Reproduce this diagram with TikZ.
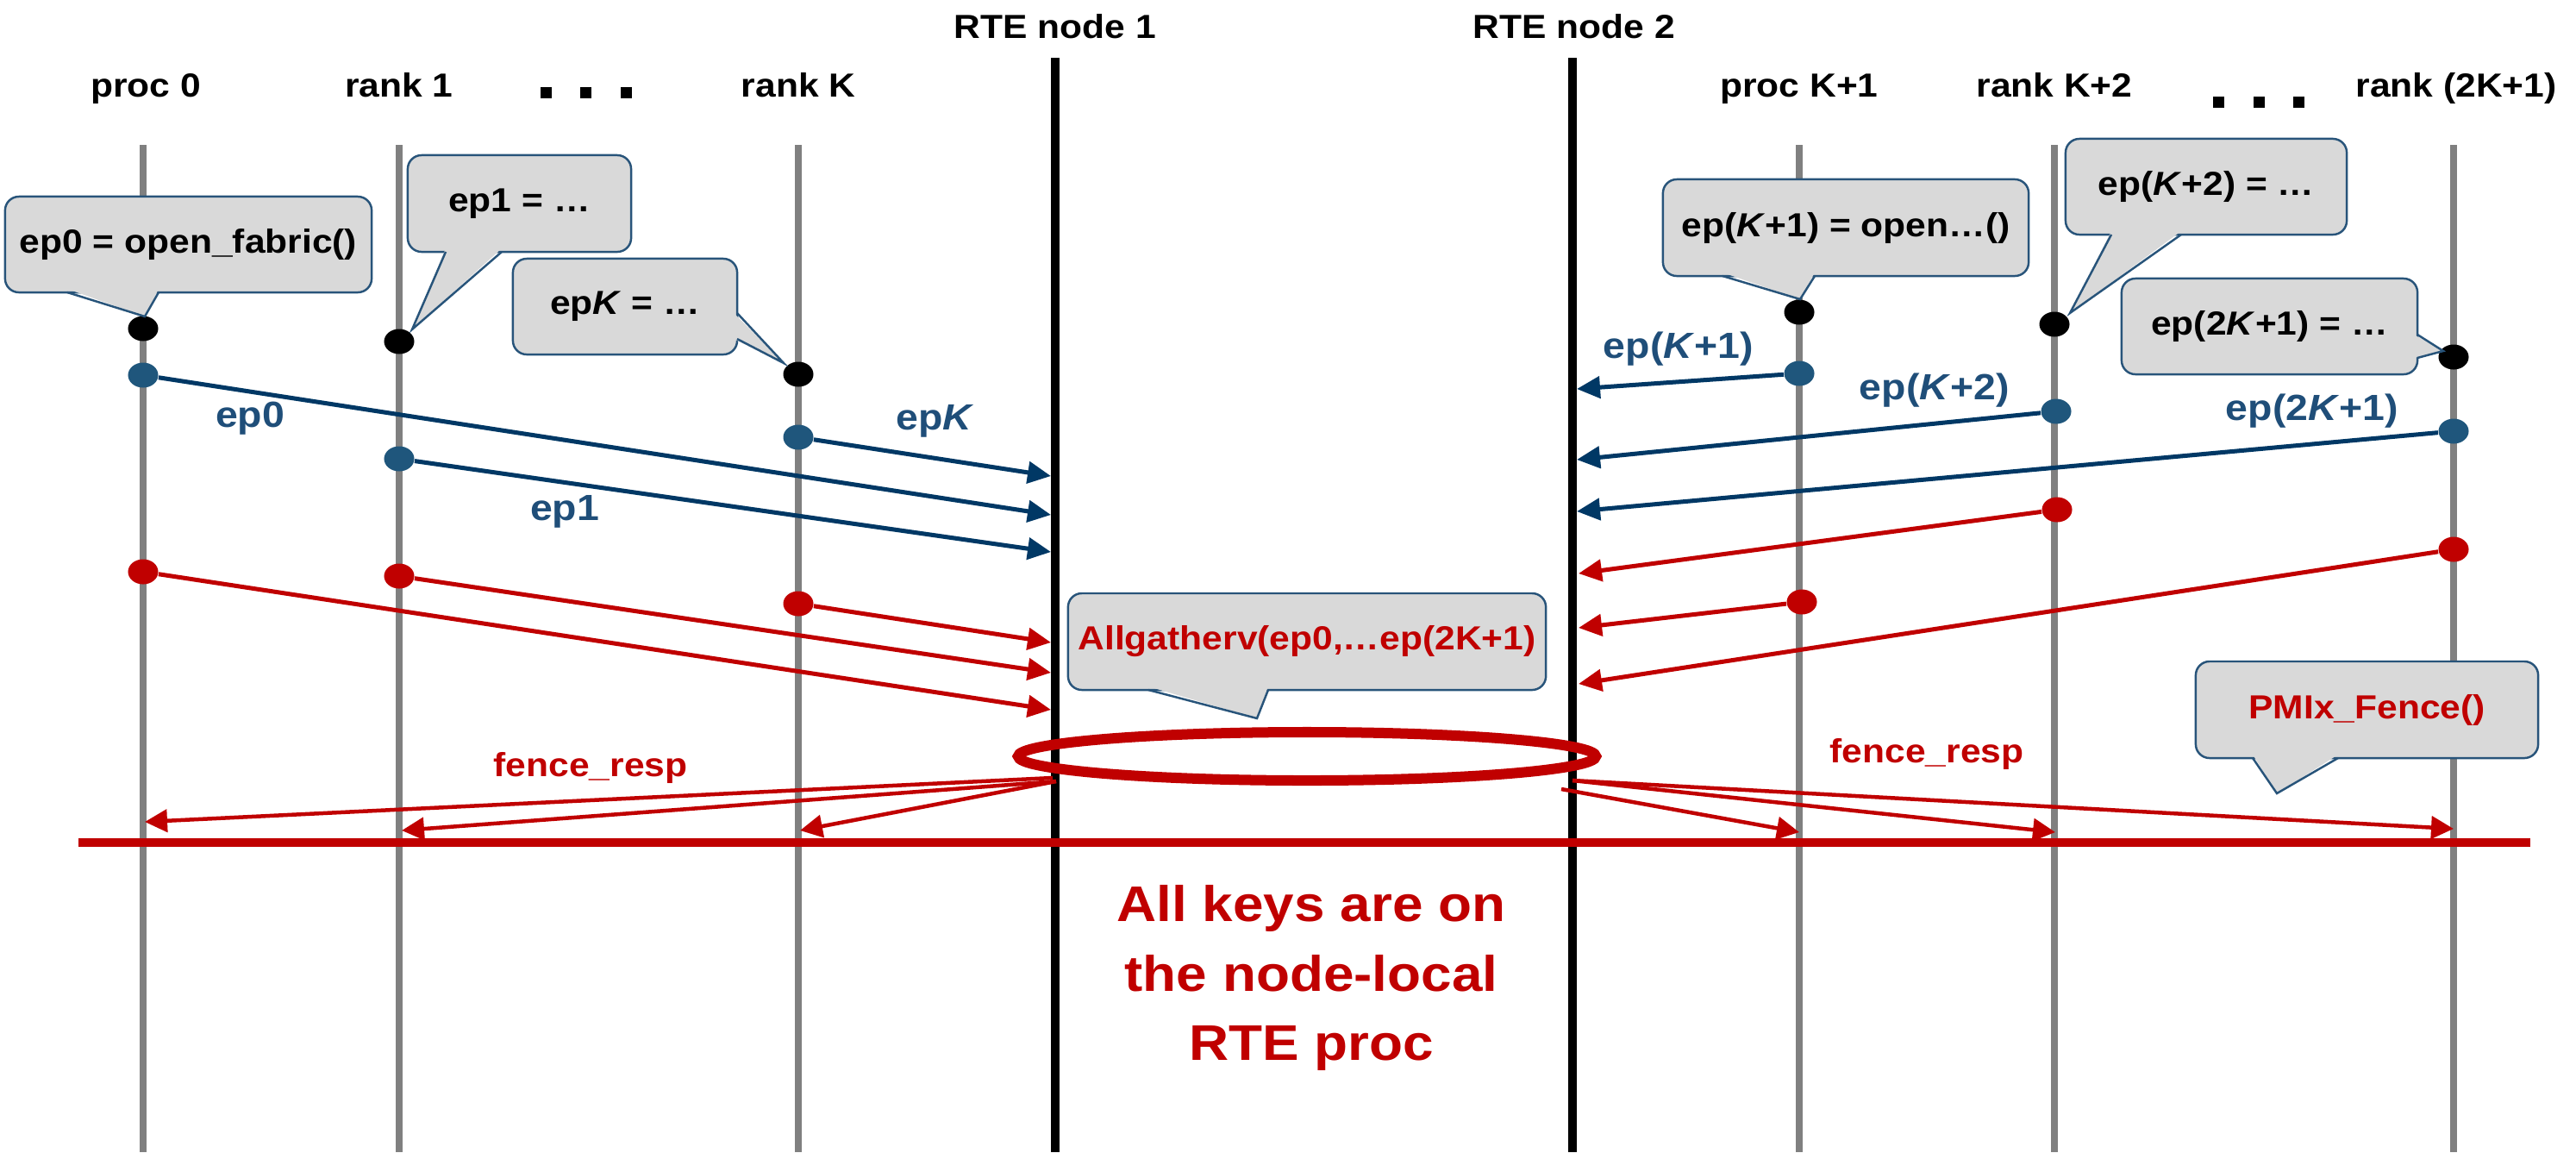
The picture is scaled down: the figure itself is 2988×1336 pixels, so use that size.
\documentclass[tikz,border=0pt]{standalone}
\usepackage{fontspec}
\setmainfont{Liberation Sans}[FakeStretch=1.1]
\usetikzlibrary{arrows.meta,shapes.geometric}
\definecolor{lane}{RGB}{128,128,128}
\definecolor{epdot}{RGB}{31,86,124}
\definecolor{eparrow}{RGB}{0,56,101}
\definecolor{eptext}{RGB}{31,78,121}
\definecolor{fencered}{RGB}{192,0,0}
\definecolor{callfill}{RGB}{217,217,217}
\definecolor{callline}{RGB}{40,84,122}
\newcommand\fsN{\fontsize{11}{13}\selectfont}
\newcommand\fsL{\fontsize{12}{14}\selectfont}
\newcommand\fsB{\fontsize{16.5}{22.8}\selectfont}
\begin{document}
\begin{tikzpicture}[x=0.01cm,y=-0.01cm,
  title/.style={font=\bfseries\fsN, anchor=base, inner sep=0},
  laneline/.style={draw=lane, line width=0.075cm},
  rteline/.style={draw=black, line width=0.1cm},
  sq/.style={fill=black, minimum size=0.13cm, inner sep=0, draw=none},
  callout/.style={fill=callfill, draw=callline, line width=0.7pt,
    rounded corners=0.16cm, inner sep=0, font=\bfseries\fsN},
  ptrfill/.style={fill=callfill},
  ptrline/.style={draw=callline, line width=0.7pt, line join=miter},
  dotk/.style={ellipse, fill=black, minimum width=0.35cm, minimum height=0.29cm, inner sep=0},
  dotb/.style={dotk, fill=epdot},
  dotr/.style={dotk, fill=fencered},
  eparr/.style={draw=eparrow, line width=0.05cm, -{Triangle[length=0.27cm,width=0.25cm]}},
  redarr/.style={draw=fencered, line width=0.05cm, -{Triangle[length=0.27cm,width=0.25cm]}},
  fencearr/.style={draw=fencered, line width=0.045cm, -{Triangle[length=0.26cm,width=0.26cm]}},
  eplbl/.style={text=eptext, font=\bfseries\fsL, inner sep=0},
  redlbl/.style={text=fencered, font=\bfseries\fsN, inner sep=0}
]
\useasboundingbox (0,0) rectangle (2988,1336);

% column titles
\node[title] (tp0) at (169,112) {proc 0};
\node[title] (tr1) at (463,112) {rank 1};
\node[title] (trk) at (926,112) {rank K};
\node[title] (tpk1) at (2087,112) {proc K+1};
\node[title] (trk2) at (2383,112) {rank K+2};
\node[title] (tr2k1) at (2849,112) {rank (2K+1)};
\node[title] (rte1) at (1224,44) {RTE node 1};
\node[title] (rte2) at (1826,44) {RTE node 2};
\node[sq] (dl1) at (633,107) {};
\node[sq] (dl2) at (679,107) {};
\node[sq] (dl3) at (726,107) {};
\node[sq] (dr1) at (2573,118) {};
\node[sq] (dr2) at (2620,118) {};
\node[sq] (dr3) at (2666,118) {};

% life lines
\foreach \x/\n in {166/a,463/b,926/c,2087/d,2383/e,2846/f}{
  \coordinate (top\n) at (\x,168);
  \coordinate (bot\n) at (\x,1336);
  \draw[laneline] (top\n) -- (bot\n);
}
\coordinate (rte1top) at (1224,67);
\coordinate (rte1bot) at (1224,1336);
\coordinate (rte2top) at (1824,67);
\coordinate (rte2bot) at (1824,1336);
\draw[rteline] (rte1top) -- (rte1bot);
\draw[rteline] (rte2top) -- (rte2bot);

% fence line
\coordinate (fl) at (91,977);
\coordinate (fr) at (2935,977);
\draw[draw=fencered, line width=0.1cm] (fl) -- (fr);

% end point dots
\node[dotk] (k0) at (166,381) {};
\node[dotk] (k1) at (463,396) {};
\node[dotk] (kk) at (926,434) {};
\node[dotk] (kk1) at (2087,362) {};
\node[dotk] (kk2) at (2383,376) {};
\node[dotk] (k2k) at (2846,414) {};

\node[dotb] (b0) at (166,435) {};
\node[dotb] (b1) at (463,532) {};
\node[dotb] (bk) at (926,507) {};
\node[dotb] (bk1) at (2087,433) {};
\node[dotb] (bk2) at (2385,477) {};
\node[dotb] (b2k) at (2846,500) {};

\node[dotr] (r0) at (166,663) {};
\node[dotr] (r1) at (463,668) {};
\node[dotr] (rk) at (926,700) {};
\node[dotr] (rk1) at (2090,698) {};
\node[dotr] (rk2) at (2386,591) {};
\node[dotr] (r2k) at (2846,637) {};

% end point sends to the node-local RTE
\coordinate (e0) at (1219,597);
\coordinate (e1) at (1219,640);
\coordinate (ek) at (1219,552);
\coordinate (ek1) at (1829,451);
\coordinate (ek2) at (1829,533);
\coordinate (e2k) at (1829,593);
\draw[eparr] (b0) -- (e0);
\draw[eparr] (b1) -- (e1);
\draw[eparr] (bk) -- (ek);
\draw[eparr] (bk1) -- (ek1);
\draw[eparr] (bk2) -- (ek2);
\draw[eparr] (b2k) -- (e2k);

\node[eplbl] (l0) at (290,485) {ep0};
\node[eplbl] (l1) at (655,593) {ep1};
\node[eplbl] (lk) at (1085,488) {ep\textit{K}};
\node[eplbl] (lk1) at (1947,405) {ep(\textit{K}+1)};
\node[eplbl] (lk2) at (2244,453) {ep(\textit{K}+2)};
\node[eplbl] (l2k) at (2682,477) {ep(2\textit{K}+1)};

% fence requests
\coordinate (f0) at (1219,823);
\coordinate (f1) at (1219,780);
\coordinate (fk) at (1219,745);
\coordinate (fk1) at (1831,728);
\coordinate (fk2) at (1831,665);
\coordinate (f2k) at (1831,793);
\draw[redarr] (r0) -- (f0);
\draw[redarr] (r1) -- (f1);
\draw[redarr] (rk) -- (fk);
\draw[redarr] (rk1) -- (fk1);
\draw[redarr] (rk2) -- (fk2);
\draw[redarr] (r2k) -- (f2k);

% collective ring
\node[draw=fencered, line width=0.12cm, ellipse, minimum width=6.7cm, minimum height=0.56cm, inner sep=0] (ring) at (1516,877) {};

% fence responses
\coordinate (sl0) at (1221,902);
\coordinate (sl) at (1225,906);
\coordinate (sr) at (1824,905);
\coordinate (sr1) at (1811,915);
\coordinate (g0) at (168,953);
\coordinate (g1) at (466,963);
\coordinate (gk) at (928,963);
\coordinate (gk1) at (2087,965);
\coordinate (gk2) at (2384,965);
\coordinate (g2k) at (2846,961);
\draw[fencearr] (sl0) -- (g0);
\draw[fencearr] (sl) -- (g1);
\draw[fencearr] (sl) -- (gk);
\draw[fencearr] (sr1) -- (gk1);
\draw[fencearr] (sr) -- (gk2);
\draw[fencearr] (sr) -- (g2k);
\node[redlbl] (fre1) at (685,890) {fence\_resp};
\node[redlbl] (fre2) at (2235,874) {fence\_resp};

% call-outs
\node[callout, minimum width=4.25cm, minimum height=1.11cm] (c0) at (218.5,283.5) {ep0 = open\_fabric()};
\fill[ptrfill] (78,335) -- (168,367) -- (184,335) -- cycle;
\draw[ptrline] (78,339) -- (168,367) -- (184,339);

\node[callout, minimum width=2.59cm, minimum height=1.12cm] (c1) at (602.5,236) {ep1 = …};
\fill[ptrfill] (517,288) -- (478,382) -- (582,288) -- cycle;
\draw[ptrline] (517,292) -- (478,382) -- (582,292);

\node[callout, minimum width=2.60cm, minimum height=1.11cm] (ck) at (725,355.5) {ep\textit{K} = …};
\fill[ptrfill] (851,363) -- (909,421) -- (851,393) -- cycle;
\draw[ptrline] (855,363) -- (909,421) -- (855,393);

\node[callout, minimum width=4.24cm, minimum height=1.12cm] (ck1) at (2141,264) {ep(\textit{K}+1) = open…()};
\fill[ptrfill] (1998,316) -- (2088,347) -- (2105,316) -- cycle;
\draw[ptrline] (1998,320) -- (2088,347) -- (2105,320);

\node[callout, minimum width=3.26cm, minimum height=1.11cm] (ck2) at (2559,216.5) {ep(\textit{K}+2) = …};
\fill[ptrfill] (2449,268) -- (2401,363) -- (2530,268) -- cycle;
\draw[ptrline] (2449,272) -- (2401,363) -- (2530,272);

\node[callout, minimum width=3.43cm, minimum height=1.11cm] (c2k) at (2632.5,378.5) {ep(2\textit{K}+1) = …};
\fill[ptrfill] (2800,388) -- (2834,407) -- (2800,415) -- cycle;
\draw[ptrline] (2804,388) -- (2834,407) -- (2804,415);

\node[callout, minimum width=5.54cm, minimum height=1.12cm, text=fencered] (cag) at (1516,744) {Allgatherv(ep0,…ep(2K+1)};
\fill[ptrfill] (1332,796) -- (1458,833) -- (1471,796) -- cycle;
\draw[ptrline] (1332,800) -- (1458,833) -- (1471,800);

\node[callout, minimum width=3.97cm, minimum height=1.12cm, text=fencered] (cpf) at (2745.5,823) {PMIx\_Fence()};
\fill[ptrfill] (2613,875) -- (2641,920) -- (2712,875) -- cycle;
\draw[ptrline] (2613,879) -- (2641,920) -- (2712,879);

% note
\node[text=fencered, font=\bfseries\fsB, align=center, inner sep=0] (keys) at (1521,1134) {All keys are on\\the node-local\\RTE proc};
\end{tikzpicture}
\end{document}
